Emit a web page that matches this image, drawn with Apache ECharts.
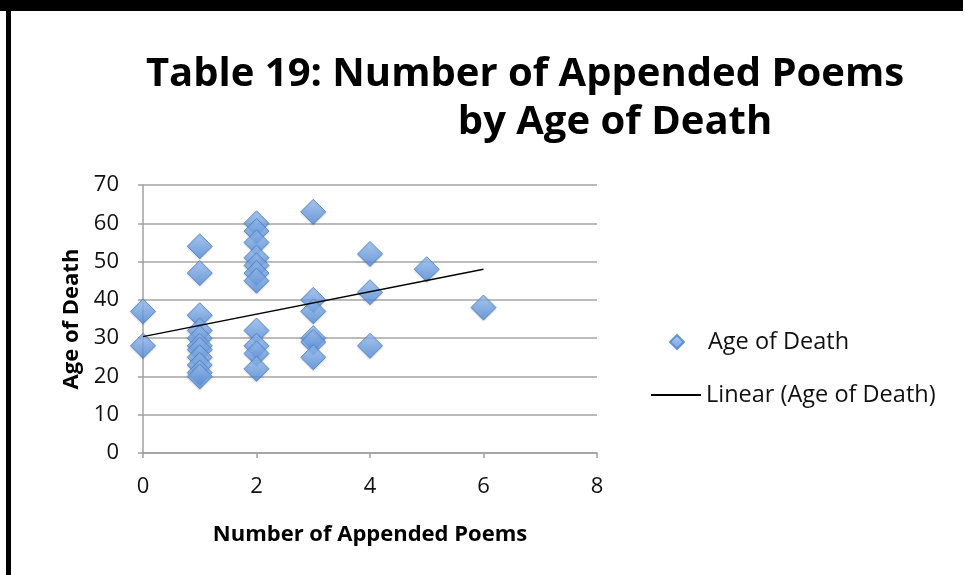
<!DOCTYPE html>
<html>
<head>
<meta charset="utf-8">
<script src="https://cdn.jsdelivr.net/npm/echarts@6/dist/echarts.min.js"></script>
<style>
html,body{margin:0;padding:0;background:#fff;}
#chart{width:965px;height:575px;}
</style>
</head>
<body>
<div id="chart"></div>
<script>
// Data
const poemsX = [0,0,
  1,1,1,1,1,1,1,1,1,1,1,
  2,2,2,2,2,2,2,2,2,2,2,
  3,3,3,3,3,3,
  4,4,4,
  5,
  6];
const ageY = [37,28,
  54,47,36,32,30,28,27,25,23,21,20,
  60,58,55,51,49,47,45,32,28,26,22,
  63,40,37,30,29,25,
  52,42,28,
  48,
  38];
const trendX = [0, 6];
const trendY = [30.4, 48.0];
const xTicks = [0, 2, 4, 6, 8];
const yTicks = [0, 10, 20, 30, 40, 50, 60, 70];
const titleLine1 = 'Table 19: Number of Appended Poems';
const titleLine2 = 'by Age of Death';
const scatterName = 'Age of Death';
const trendName = 'Linear (Age of Death)';

const FONT = 'Open Sans';
const chart = echarts.init(document.getElementById('chart'), null, {renderer:'canvas'});
const scatterData = poemsX.map((x,i)=>[x, ageY[i]]);
const trendData = trendX.map((x,i)=>[x, trendY[i]]);

chart.setOption({
  backgroundColor:'#ffffff',
  animation:false,
  title:[
    {text:titleLine1, left:520, top:46, textAlign:'center',
     textStyle:{fontFamily:FONT, fontWeight:'bold', fontSize:40, lineHeight:48, color:'#000'}},
    {text:titleLine2, left:610, top:94, textAlign:'center',
     textStyle:{fontFamily:FONT, fontWeight:'bold', fontSize:40, lineHeight:48, color:'#000'}}
  ],
  graphic:[
    {type:'rect', shape:{x:0,y:0,width:963,height:11}, style:{fill:'#000'}},
    {type:'rect', shape:{x:6,y:0,width:5,height:575}, style:{fill:'#000'}}
  ],
  legend:[
    {
      orient:'vertical', left:669, top:327, padding:0,
      itemWidth:14, itemHeight:14,
      textStyle:{fontFamily:FONT, fontSize:23.5, color:'#111', lineHeight:30, padding:[0,0,0,19]},
      data:[{name:scatterName, icon:'diamond'}]
    },
    {
      orient:'vertical', left:651, top:380, padding:0,
      itemWidth:50, itemHeight:2,
      textStyle:{fontFamily:FONT, fontSize:23.5, color:'#111', lineHeight:30},
      data:[{name:trendName, icon:'rect'}]
    }
  ],
  grid:{left:143, right:368, top:185, bottom:122, containLabel:false},
  xAxis:{
    type:'value', min:0, max:8, interval:2,
    name:'Number of Appended Poems', nameLocation:'middle', nameGap:71,
    nameTextStyle:{fontFamily:FONT, fontWeight:'bold', fontSize:22, color:'#000'},
    axisLine:{show:true, lineStyle:{color:'#a0a0a0', width:1.5}},
    axisTick:{show:true, length:5, lineStyle:{color:'#a0a0a0', width:1.5}},
    axisLabel:{fontFamily:FONT, fontSize:22, color:'#111', margin:23,
      formatter:v=>xTicks.includes(v)?String(v):''},
    splitLine:{show:false}
  },
  yAxis:{
    type:'value', min:0, max:70, interval:10,
    name:'Age of Death', nameLocation:'middle', nameGap:60, nameRotate:90,
    nameTextStyle:{fontFamily:FONT, fontWeight:'bold', fontSize:22, color:'#000'},
    axisLine:{show:true, lineStyle:{color:'#a0a0a0', width:1.5}},
    axisTick:{show:true, length:5, lineStyle:{color:'#a0a0a0', width:1.5}},
    axisLabel:{fontFamily:FONT, fontSize:22, color:'#111', margin:24,
      formatter:v=>yTicks.includes(v)?String(v):''},
    splitLine:{show:true, lineStyle:{color:'#a5a5a5', width:1.5}}
  },
  series:[
    {
      name:scatterName, type:'scatter', data:scatterData,
      symbol:'diamond', symbolSize:25,
      itemStyle:{
        color:new echarts.graphic.LinearGradient(0,0,0,1,[
          {offset:0,color:'#9dc3f5'},{offset:1,color:'#4f89d8'}]),
        borderColor:'#4a7fc8', borderWidth:1,
        shadowColor:'rgba(0,0,0,0.2)', shadowBlur:2, shadowOffsetY:1
      },
      z:2
    },
    {
      name:trendName, type:'line', data:trendData,
      symbol:'none', showSymbol:false,
      lineStyle:{color:'#000', width:1.5},
      itemStyle:{color:'#000'},
      z:3
    }
  ]
});
</script>
</body>
</html>
